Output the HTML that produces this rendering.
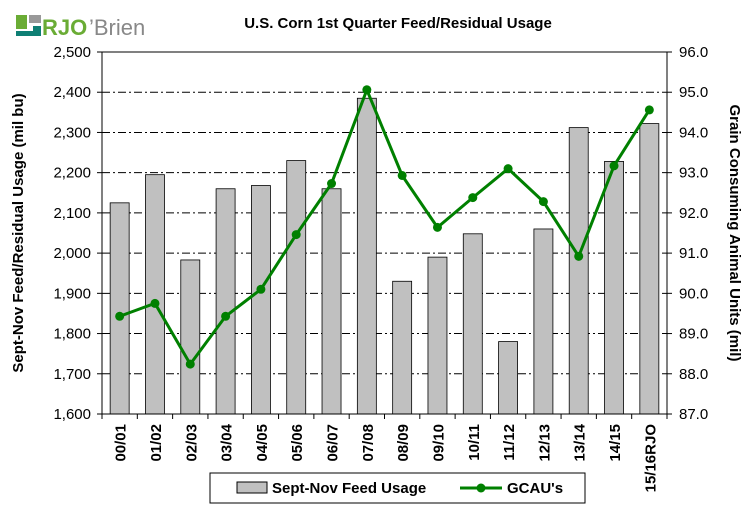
<!DOCTYPE html>
<html><head><meta charset="utf-8"><style>
body{margin:0;background:#fff;}
svg text{font-family:"Liberation Sans",Arial,sans-serif;}
</style></head><body>
<svg id="chart" width="756" height="516" xmlns="http://www.w3.org/2000/svg">
<g>
<rect x="16" y="15" width="11" height="14" fill="#6aac35"/>
<rect x="29" y="15" width="12" height="8" fill="#999"/>
<polygon points="16,31 33,31 33,26 41,26 41,36 16,36" fill="#0e7f74"/>
<text x="42" y="35" font-size="22" fill="#6aac35" font-weight="bold">RJO</text>
<text x="89" y="35" font-size="22" fill="#888">’Brien</text>
</g>
<text x="398" y="28" font-size="15" font-weight="bold" text-anchor="middle">U.S. Corn 1st Quarter Feed/Residual  Usage</text>
<g id="grid"></g><g id="bars"></g><g id="axes"></g><g id="line"></g>
<text transform="translate(23,233) rotate(-90)" font-size="15" font-weight="bold" text-anchor="middle">Sept-Nov Feed/Residual Usage  (mil bu)</text>
<text transform="translate(730,233) rotate(90)" font-size="15" font-weight="bold" text-anchor="middle">Grain Consuming Animal  Units  (mil)</text>
<g>
<rect x="210" y="473" width="375" height="30" fill="#fff" stroke="#000"/>
<rect x="237" y="482" width="30" height="11" fill="#c0c0c0" stroke="#000"/>
<text x="272" y="493" font-size="15" font-weight="bold">Sept-Nov Feed Usage</text>
<line x1="460" y1="488" x2="502" y2="488" stroke="#008000" stroke-width="3"/>
<circle cx="481" cy="488" r="4.5" fill="#008000"/>
<text x="507" y="493" font-size="15" font-weight="bold">GCAU's</text>
</g>
</svg>
<script>
const categories=["00/01","01/02","02/03","03/04","04/05","05/06","06/07","07/08","08/09","09/10","10/11","11/12","12/13","13/14","14/15","15/16RJO"];
const feedUsage=[2125,2195,1983,2160,2168,2230,2160,2385,1930,1990,2048,1780,2060,2312,2228,2322];
const gcau=[89.43,89.75,88.24,89.43,90.1,91.46,92.73,95.06,92.93,91.64,92.38,93.1,92.28,90.92,93.17,94.56];
const leftTicks=["1,600","1,700","1,800","1,900","2,000","2,100","2,200","2,300","2,400","2,500"];
const rightTicks=["87.0","88.0","89.0","90.0","91.0","92.0","93.0","94.0","95.0","96.0"];
const NS="http://www.w3.org/2000/svg";
const L=102,R=667,T=52,B=414,n=categories.length,bw=(R-L)/n;
const yL=v=>B-(v-1600)/900*(B-T);
const yR=v=>B-(v-87)/9*(B-T);
const xc=i=>L+bw*(i+0.5);
function mk(p,t,a){const e=document.createElementNS(NS,t);for(const k in a)e.setAttribute(k,a[k]);document.getElementById(p).appendChild(e);return e;}
leftTicks.forEach((s,i)=>{const y=yL(1600+i*100);
 if(i>0&&i<9){const g=mk('grid','line',{x1:L,x2:R,y1:y,y2:y,stroke:'#000','stroke-dasharray':'8,3,2,3'});
 
 }
 const t=mk('axes','text',{x:L-11,y:y+5,'font-size':15,'text-anchor':'end'});t.textContent=s;
 
 
 mk('axes','line',{x1:L-5,x2:L,y1:y,y2:y,stroke:'#000'});
});
rightTicks.forEach((s,i)=>{const y=yR(87+i);
 const t=mk('axes','text',{x:R+12,y:y+5,'font-size':15});t.textContent=s;
 
 
 mk('axes','line',{x1:R,x2:R+5,y1:y,y2:y,stroke:'#000'});
});
feedUsage.forEach((v,i)=>{const y=yL(v);
 const b=mk('bars','rect',{x:xc(i)-9.5,y:y,width:19,height:B-y,fill:'#c0c0c0',stroke:'#000','stroke-width':0.8});
 
 
});
mk('axes','rect',{x:L,y:T,width:R-L,height:B-T,fill:'none',stroke:'#000'});
for(let i=0;i<=n;i++){const x=L+bw*i;mk('axes','line',{x1:x,x2:x,y1:B,y2:B+5,stroke:'#000'});}
categories.forEach((c,i)=>{const t=mk('axes','text',{transform:`translate(${xc(i)+6},${B+10}) rotate(-90)`,'font-size':15,'font-weight':'bold','text-anchor':'end'});t.textContent=c;
 
 });
const pl=mk('line','polyline',{points:gcau.map((v,i)=>xc(i)+','+yR(v)).join(' '),fill:'none',stroke:'#008000','stroke-width':3});


gcau.forEach((v,i)=>{const c=mk('line','circle',{cx:xc(i),cy:yR(v),r:4.5,fill:'#008000'});
 
 });
</script>
</body></html>
